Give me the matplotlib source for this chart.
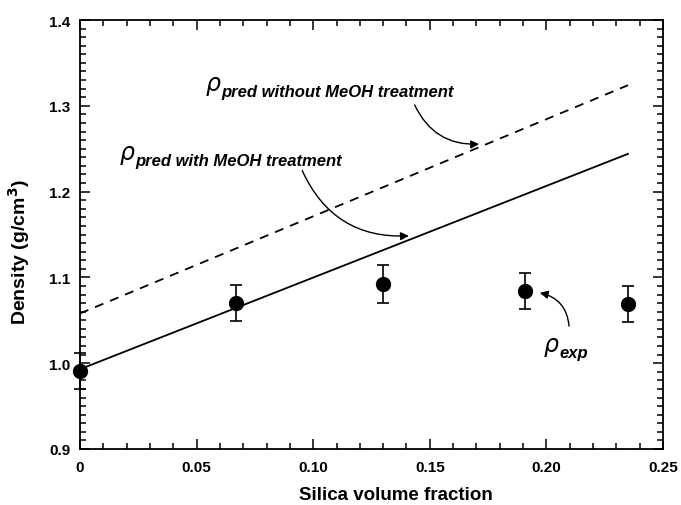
import numpy as np
import matplotlib
matplotlib.use('Agg')
import matplotlib.pyplot as plt
from matplotlib.ticker import MultipleLocator
from matplotlib.transforms import offset_copy

# experimental densities
phi_exp = [0.0, 0.067, 0.130, 0.191, 0.235]
rho_exp = [0.991, 1.070, 1.092, 1.084, 1.069]
rho_err = [0.021, 0.021, 0.022, 0.021, 0.021]

# predicted lines (end points)
phi_line = [0.0, 0.235]
rho_with = [0.993, 1.244]
rho_without = [1.058, 1.324]

xticks = [0, 0.05, 0.10, 0.15, 0.20, 0.25]
xticklabels = ['0', '0.05', '0.10', '0.15', '0.20', '0.25']
yticks = [0.9, 1.0, 1.1, 1.2, 1.3, 1.4]
yticklabels = ['0.9', '1.0', '1.1', '1.2', '1.3', '1.4']

plt.rcParams['font.family'] = ['Liberation Sans', 'DejaVu Sans']

fig = plt.figure(figsize=(6.81, 5.06), dpi=100)
ax = fig.add_axes([80 / 681, 1 - 450 / 506, 583 / 681, 429 / 506])

ax.plot(phi_line, rho_with, 'k-', lw=1.3)
ax.plot(phi_line, rho_without, 'k--', lw=1.3, dashes=(5, 4))
ax.errorbar(phi_exp, rho_exp, yerr=rho_err, fmt='o', color='k', ms=10,
            capsize=4, elinewidth=1.2, capthick=1.2, clip_on=False, zorder=3)

ax.set_xlim(0, 0.25)
ax.set_ylim(0.9, 1.4)
ax.xaxis.set_minor_locator(MultipleLocator(0.01))
ax.yaxis.set_minor_locator(MultipleLocator(0.01))
ax.set_xticks(xticks)
ax.set_xticklabels(xticklabels)
ax.set_yticks(yticks)
ax.set_yticklabels(yticklabels)
ax.tick_params(which='both', direction='in', top=True, right=True,
               labelsize=11, width=1.1)
ax.tick_params(axis='x', pad=8)
ax.tick_params(axis='y', pad=7)
ax.tick_params(which='major', length=7)
ax.tick_params(which='minor', length=4)
for lab in ax.get_xticklabels() + ax.get_yticklabels():
    lab.set_fontweight('bold')
for sp in ax.spines.values():
    sp.set_linewidth(1.3)

ax.set_xlabel('Silica volume fraction', fontsize=13.5, fontweight='bold',
              va='center')
ax.set_ylabel('Density (g/cm$^\\mathbf{3}$)', fontsize=14, fontweight='bold')
ax.xaxis.set_label_coords(0.542, -0.107)
ax.yaxis.set_label_coords(-0.082, 0.46)


def rho_label(x, y, sub):
    ax.text(x, y, '\u03c1', fontsize=17, style='italic', family='DejaVu Sans',
            va='baseline', ha='left')
    tr = offset_copy(ax.transData, fig=fig, x=11, y=-4, units='points')
    ax.text(x, y, sub, fontsize=12, style='italic', fontweight='bold',
            va='baseline', ha='left', transform=tr)


rho_label(0.054, 1.318, 'pred without MeOH treatment')
rho_label(0.017, 1.238, 'pred with MeOH treatment')
rho_label(0.199, 1.014, 'exp')

arrow = dict(arrowstyle='-|>', color='k', lw=1, mutation_scale=12)
ax.annotate('', xy=(0.1723, 1.2555), xytext=(0.143, 1.304),
            arrowprops=dict(arrow, connectionstyle='arc3,rad=0.35'))
ax.annotate('', xy=(0.1422, 1.1486), xytext=(0.0948, 1.2275),
            arrowprops=dict(arrow, connectionstyle='arc3,rad=0.35'))
ax.annotate('', xy=(0.196, 1.0826), xytext=(0.2098, 1.040),
            arrowprops=dict(arrow, connectionstyle='arc3,rad=0.4'))

fig.savefig('out.png', dpi=100)
